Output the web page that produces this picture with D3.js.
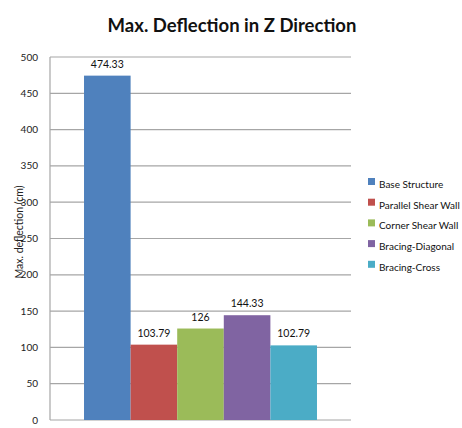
<!DOCTYPE html>
<html>
<head>
<meta charset="utf-8">
<script src="https://cdn.jsdelivr.net/npm/d3@7"></script>
<style>
  body { margin: 0; background: #fff; }
  text { font-family: Lato, "Liberation Sans", sans-serif; }
</style>
</head>
<body>
<div id="chart"></div>
<script>
const series = ["Base Structure", "Parallel Shear Wall", "Corner Shear Wall", "Bracing-Diagonal", "Bracing-Cross"];
const values = [474.33, 103.79, 126, 144.33, 102.79];
const valueLabels = ["474.33", "103.79", "126", "144.33", "102.79"];
const yTicks = [0, 50, 100, 150, 200, 250, 300, 350, 400, 450, 500];

const width = 462, height = 428;
const margin = { top: 57, right: 111, bottom: 8, left: 50 };
const innerWidth = width - margin.left - margin.right;
const innerHeight = height - margin.top - margin.bottom;

const colors = ["#4F81BD", "#C0504D", "#9BBB59", "#8064A2", "#4BACC6"];

const svg = d3.select("#chart")
  .append("svg")
  .attr("width", width)
  .attr("height", height);

svg.append("text")
  .attr("x", 232)
  .attr("y", 32)
  .attr("text-anchor", "middle")
  .style("font-size", "18.5px")
  .style("font-weight", "bold")
  .style("fill", "#111")
  .text("Max. Deflection in Z Direction");

const g = svg.append("g")
  .attr("transform", "translate(" + margin.left + "," + margin.top + ")");

const y = d3.scaleLinear().domain([0, 500]).range([innerHeight, 0]);

const x = d3.scaleBand()
  .domain(series)
  .range([0, innerWidth])
  .paddingInner(0)
  .paddingOuter(0.73);

// gridlines
g.selectAll(".grid")
  .data(yTicks)
  .enter()
  .append("line")
  .attr("x1", 0)
  .attr("x2", innerWidth)
  .attr("y1", (d) => y(d))
  .attr("y2", (d) => y(d))
  .attr("stroke", "#a6a6a6")
  .attr("stroke-width", 1.2);

// left axis line
g.append("line")
  .attr("x1", 0).attr("x2", 0)
  .attr("y1", 0).attr("y2", innerHeight)
  .attr("stroke", "#a6a6a6")
  .attr("stroke-width", 1.2);

g.selectAll(".ytick")
  .data(yTicks)
  .enter()
  .append("text")
  .attr("x", -12)
  .attr("y", (d) => y(d))
  .attr("dy", "0.35em")
  .attr("text-anchor", "end")
  .style("font-size", "10px")
  .style("fill", "#222")
  .text((d) => d);

svg.append("text")
  .attr("transform", "rotate(-90)")
  .attr("x", -232)
  .attr("y", 23)
  .attr("text-anchor", "middle")
  .style("font-size", "10.5px")
  .style("fill", "#222")
  .text("Max. deflection (cm)");

g.selectAll(".bar")
  .data(series)
  .enter()
  .append("rect")
  .attr("x", (d) => x(d))
  .attr("width", x.bandwidth())
  .attr("y", (d, i) => y(values[i]))
  .attr("height", (d, i) => innerHeight - y(values[i]))
  .attr("fill", (d, i) => colors[i]);

// value labels, kept inside the plot area like the original
g.selectAll(".label")
  .data(series)
  .enter()
  .append("text")
  .attr("x", (d) => x(d) + x.bandwidth() / 2)
  .attr("y", (d, i) => Math.max(y(values[i]) - 8, 10))
  .attr("text-anchor", "middle")
  .style("font-size", "10.5px")
  .style("fill", "#111")
  .text((d, i) => valueLabels[i]);

const legend = svg.append("g")
  .attr("transform", "translate(368,178)");

series.forEach((s, i) => {
  const row = legend.append("g")
    .attr("transform", "translate(0," + i * 20.7 + ")");
  row.append("rect")
    .attr("width", 7)
    .attr("height", 7)
    .attr("fill", colors[i]);
  row.append("text")
    .attr("x", 11)
    .attr("y", 10)
    .style("font-size", "10px")
    .style("fill", "#111")
    .text(s);
});
</script>
</body>
</html>
